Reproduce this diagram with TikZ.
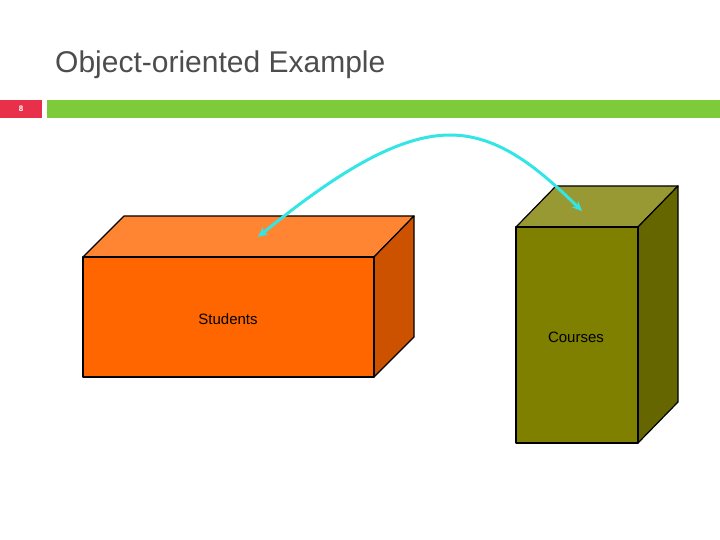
\documentclass[tikz,border=0pt]{standalone}
\usepackage{fontspec}
\setmainfont{Liberation Sans}
\usetikzlibrary{arrows.meta}
\definecolor{titlegray}{HTML}{4D4D4D}
\definecolor{numred}{HTML}{E8304A}
\definecolor{bargreen}{HTML}{7DCB3A}
\definecolor{sfront}{HTML}{FF6600}
\definecolor{stop}{HTML}{FF8533}
\definecolor{sside}{HTML}{CC5200}
\definecolor{cfront}{HTML}{808000}
\definecolor{ctop}{HTML}{999933}
\definecolor{cside}{HTML}{666600}
\definecolor{arrowcyan}{HTML}{33E5E5}
\tikzset{face/.style={draw=black, line width=1.2pt, line join=round},
  lbl/.style={font=\fontsize{15}{18}\selectfont, inner sep=0pt}}
\begin{document}
\begin{tikzpicture}[x=1pt,y=-1pt]
\useasboundingbox (0,0) rectangle (720,540);
\node[anchor=base west, text=titlegray, font=\fontsize{30}{36}\selectfont, inner sep=0pt] (title) at (55,73) {Object-oriented Example};
\fill[numred] (0,100) rectangle (42,118);
\node[text=white, font=\fontsize{8}{9}\selectfont\bfseries] (num) at (21,109) {8};
\fill[bargreen] (47,100) rectangle (720,118);
% Students box
\filldraw[face, fill=stop] (83,257) -- (124,216) -- (414,216) -- (374,257) -- cycle;
\filldraw[face, fill=sside] (374,257) -- (414,216) -- (414,337) -- (374,377) -- cycle;
\filldraw[face, fill=sfront] (83,257) rectangle (374,377);
\node[lbl] (students) at (228,319) {Students};
% Courses box
\filldraw[face, fill=ctop] (516,227) -- (556,186) -- (678,186) -- (638,227) -- cycle;
\filldraw[face, fill=cside] (638,227) -- (678,186) -- (678,402) -- (638,443) -- cycle;
\filldraw[face, fill=cfront] (516,227) rectangle (638,443);
\node[lbl] (courses) at (576,337) {Courses};
\coordinate (a) at (258,237);
\coordinate (b) at (582,211);
\draw[arrowcyan, line width=3pt, {Stealth[length=10pt,width=9pt]}-{Stealth[length=10pt,width=9pt]}]
  (a) .. controls (340,170) and (400,135) .. (450,135) .. controls (500,135) and (540,170) .. (b);
\end{tikzpicture}
\end{document}
